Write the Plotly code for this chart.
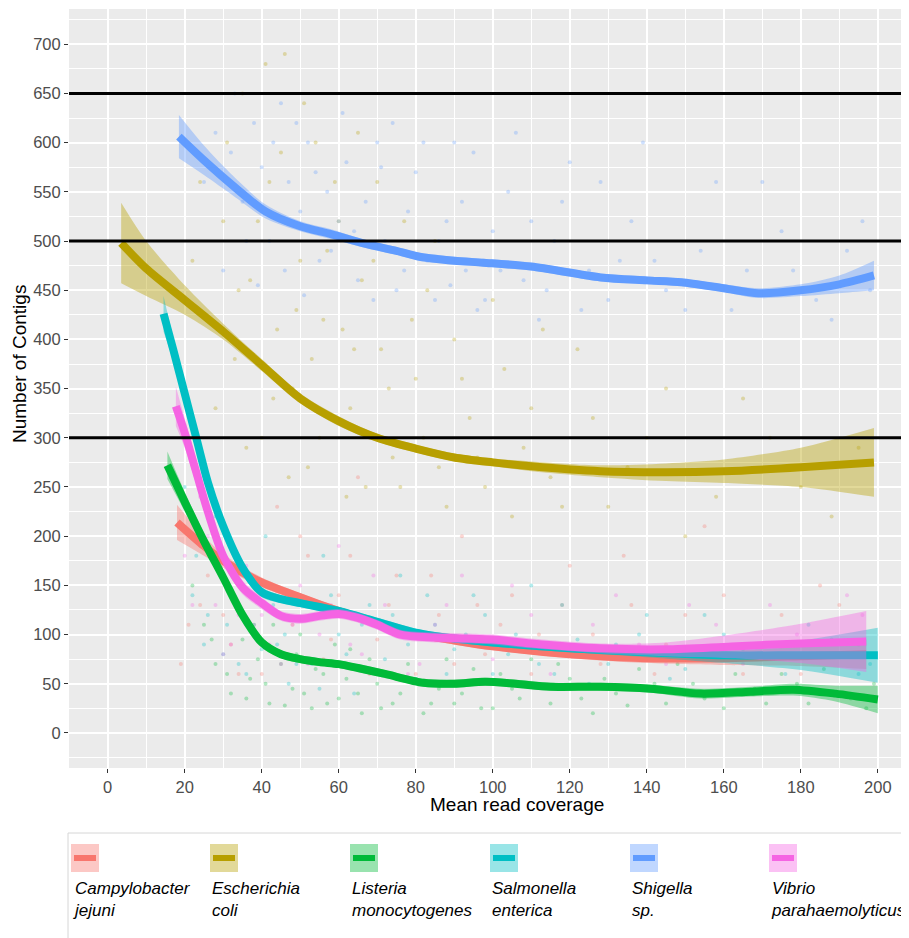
import plotly.graph_objects as go

# ---------------- data ----------------
SPECIES = ["Campylobacter jejuni", "Escherichia coli", "Listeria monocytogenes",
           "Salmonella enterica", "Shigella sp.", "Vibrio parahaemolyticus"]
COLORS = ["#F8766D", "#B79F00", "#00BA38", "#00BFC4", "#619CFF", "#F564E3"]

# smoothed curves (loess) : x, fitted y, half width of confidence band
CJ_X = [18, 25, 30, 40, 50, 60, 70, 80, 90, 100, 120, 140, 160, 180, 197]
CJ_Y = [214, 190, 175, 153, 138, 124, 112, 101, 94, 88, 80, 76, 76, 78, 80]
CJ_SE = [18, 10, 7, 5, 4, 4, 4, 4, 4, 4, 4, 5, 7, 10, 15]

EC_X = [3.5, 10, 20, 30, 40, 50, 60, 70, 80, 90, 100, 110, 128, 145, 160, 180, 199]
EC_Y = [498, 472, 440, 408, 374, 340, 317, 300, 289, 280, 275, 271, 266, 265, 266, 270, 275]
EC_SE = [41, 28, 15, 8, 6, 5, 5, 4, 4, 4, 4, 5, 6, 9, 12, 20, 35]

LM_X = [15.5, 20, 25, 30, 35, 40, 45, 50, 55, 60, 65, 72, 82, 90, 98, 106, 115, 128, 141, 154, 167, 178, 189, 200]
LM_Y = [272, 235, 195, 158, 120, 92, 80, 75, 72, 70, 66, 60, 51, 50, 52, 50, 47, 47, 45, 40, 42, 44, 40, 34]
LM_SE = [14, 10, 8, 6, 5, 5, 4, 4, 4, 4, 4, 4, 4, 4, 4, 4, 4, 4, 4, 5, 5, 6, 8, 14]

SE_X = [14.5, 17, 20, 23, 26, 30, 35, 40, 45, 50, 55, 60, 70, 80, 90, 100, 120, 140, 160, 180, 200]
SE_Y = [426, 390, 345, 300, 255, 210, 168, 143, 136, 132, 128, 124, 113, 102, 96, 92, 86, 82, 79, 79, 79]
SE_SE = [18, 12, 10, 8, 7, 6, 5, 5, 4, 4, 4, 4, 4, 4, 4, 4, 4, 5, 8, 15, 28]

SH_X = [18.5, 25, 32.6, 41, 50, 58, 67, 75, 81, 90, 97.5, 110, 128, 140, 149, 160, 169, 180, 190, 199]
SH_Y = [606, 582, 556, 530, 515, 507, 497, 490, 484, 480, 478, 474, 463, 460, 458, 452, 447, 450, 456, 465]
SH_SE = [22, 15, 10, 7, 5, 5, 4, 4, 4, 4, 4, 4, 4, 4, 4, 4, 5, 6, 9, 15]

VP_X = [17.7, 20, 23, 26, 30, 35, 40, 45, 50, 55, 60, 65, 70, 76, 85, 93, 100, 110, 128, 145, 162, 180, 197]
VP_Y = [332, 305, 265, 225, 180, 148, 132, 119, 116, 119, 121, 117, 110, 100, 97, 96, 95, 91, 86, 85, 88, 91, 93]
VP_SE = [20, 15, 12, 10, 8, 7, 6, 5, 5, 5, 5, 5, 5, 5, 5, 5, 5, 5, 5, 7, 12, 20, 31]

# representative individual assemblies (estimated sample of the point cloud)
CJ_PX = [19, 24, 28, 32, 36, 40, 44, 48, 52, 56, 60, 65, 70, 75, 80, 86, 92, 98, 105, 112, 120, 128, 136, 145, 155, 165, 175, 185, 195,
         21, 26, 30, 34, 38, 42, 46, 50, 54, 58, 63, 68, 73, 78, 84, 90, 96, 102, 110, 118, 126, 134, 142, 150, 160, 170, 180, 190]
CJ_PY = [70, 130, 200, 90, 160, 60, 230, 110, 180, 75, 140, 260, 95, 160, 60, 120, 200, 80, 140, 100, 170, 70, 130, 90, 210, 60, 120, 150, 90,
         110, 160, 120, 60, 110, 150, 80, 200, 120, 95, 180, 60, 130, 100, 160, 70, 130, 110, 60, 130, 100, 180, 60, 120, 140, 90, 60, 130]

EC_PX = [22, 26, 30, 33, 35, 37, 40, 42, 44, 46, 48, 50, 52, 54, 56, 58, 60, 62, 64, 66, 68, 70, 73, 76, 79, 82, 85, 88, 92, 96, 100, 105, 110, 115, 122, 130, 140, 150, 165, 180, 195,
         24, 28, 31, 34, 36, 39, 41, 43, 45, 47, 49, 51, 53, 55, 57, 59, 61, 63, 65, 67, 69, 71, 74, 77, 80, 83, 86, 90, 94, 98, 103, 108, 113, 118, 126, 135, 145, 158, 172, 188]
EC_PY = [480, 420, 520, 380, 650, 460, 300, 560, 410, 690, 350, 480, 270, 600, 420, 320, 520, 240, 390, 460, 300, 560, 350, 250, 420, 300, 500, 230, 360, 280, 440, 220, 330, 260, 390, 230, 300, 200, 340, 250, 290,
         560, 330, 600, 450, 290, 520, 680, 340, 590, 260, 430, 640, 380, 300, 490, 560, 410, 330, 610, 250, 480, 390, 280, 520, 360, 450, 270, 400, 320, 250, 370, 290, 410, 230, 320, 270, 350, 240, 300, 220]

LM_PX = [22, 25, 28, 30, 32, 35, 37, 40, 42, 45, 48, 50, 53, 56, 60, 63, 66, 70, 74, 78, 82, 86, 90, 95, 100, 105, 110, 115, 120, 126, 132, 138, 145, 152, 160, 168, 175, 182, 190, 197,
         27, 31, 34, 36, 39, 41, 43, 46, 49, 51, 54, 57, 59, 62, 65, 68, 71, 73, 76, 80, 84, 88, 92, 97, 102, 107, 112, 117, 123, 129, 135, 142, 148, 155, 163, 171, 179, 186, 193, 199]
LM_PY = [150, 110, 70, 180, 40, 95, 55, 130, 30, 70, 45, 100, 25, 60, 35, 85, 20, 50, 30, 70, 20, 45, 30, 65, 25, 45, 75, 30, 55, 20, 40, 65, 30, 50, 25, 45, 60, 30, 40, 25,
         95, 60, 130, 35, 75, 50, 110, 28, 80, 40, 65, 30, 90, 55, 40, 75, 25, 60, 40, 55, 30, 75, 40, 25, 60, 35, 50, 70, 35, 55, 28, 50, 70, 35, 60, 30, 50, 65, 35, 50]

SE_PX = [20, 23, 26, 28, 30, 33, 36, 38, 41, 44, 47, 50, 53, 56, 60, 64, 68, 72, 76, 80, 85, 90, 95, 100, 106, 112, 118, 125, 132, 140, 150, 160, 170, 182, 195,
         22, 25, 29, 31, 34, 37, 40, 43, 46, 49, 52, 55, 58, 62, 66, 70, 74, 78, 83, 88, 93, 98, 104, 110, 116, 122, 130, 138, 146, 155, 165, 176, 188, 198]
SE_PY = [250, 180, 120, 220, 80, 160, 60, 110, 200, 90, 50, 140, 70, 180, 100, 40, 130, 75, 160, 55, 110, 85, 140, 60, 100, 70, 130, 50, 90, 120, 65, 100, 75, 110, 60,
         140, 90, 170, 110, 70, 140, 85, 130, 100, 70, 115, 45, 140, 80, 110, 60, 120, 90, 140, 60, 100, 120, 80, 150, 60, 95, 70, 100, 55, 120, 85, 60, 95, 70]

SH_PX = [25, 28, 32, 35, 38, 40, 42, 45, 47, 50, 52, 55, 57, 60, 62, 65, 67, 70, 72, 75, 78, 80, 83, 85, 88, 90, 93, 96, 100, 104, 108, 112, 116, 120, 125, 130, 136, 142, 150, 158, 166, 175, 184, 192, 198,
         30, 33, 36, 39, 43, 46, 49, 51, 54, 58, 61, 64, 69, 71, 74, 77, 82, 86, 89, 92, 95, 98, 102, 106, 110, 114, 118, 123, 128, 133, 139, 145, 154, 162, 170, 178, 188, 196]
SH_PY = [560, 610, 590, 540, 620, 575, 500, 640, 560, 530, 600, 480, 550, 520, 580, 460, 540, 600, 500, 450, 530, 570, 480, 440, 520, 600, 470, 430, 510, 550, 460, 420, 500, 580, 470, 440, 520, 480, 430, 560, 470, 510, 440, 490, 450,
         470, 650, 500, 455, 600, 470, 620, 445, 570, 490, 630, 510, 440, 575, 620, 470, 600, 500, 455, 540, 590, 440, 470, 610, 520, 450, 540, 430, 560, 480, 600, 450, 490, 430, 560, 470, 420, 520]

VP_PX = [20, 24, 28, 32, 36, 40, 45, 50, 55, 60, 66, 72, 78, 85, 92, 100, 110, 120, 132, 145, 158, 172, 186, 196,
         22, 26, 30, 34, 38, 42, 48, 52, 58, 63, 69, 75, 81, 88, 96, 105, 115, 126, 138, 151, 165, 179, 192]
VP_PY = [180, 240, 130, 90, 170, 120, 70, 150, 100, 190, 80, 130, 60, 110, 160, 75, 120, 90, 140, 70, 110, 130, 80, 120,
         130, 200, 80, 120, 150, 90, 110, 70, 130, 90, 160, 100, 70, 130, 90, 150, 60, 110, 90, 130, 70, 100, 140]

HLINES = [300, 500, 650]
X_TICKS = list(range(0, 201, 20))
Y_TICKS = list(range(0, 701, 50))
X_TITLE = "Mean read coverage"
Y_TITLE = "Number of Contigs"
LEGEND_LABELS = ["Campylobacter<br>jejuni", "Escherichia<br>coli", "Listeria<br>monocytogenes",
                 "Salmonella<br>enterica", "Shigella<br>sp.", "Vibrio<br>parahaemolyticus"]

CURVES = [(CJ_X, CJ_Y, CJ_SE), (EC_X, EC_Y, EC_SE), (LM_X, LM_Y, LM_SE),
          (SE_X, SE_Y, SE_SE), (SH_X, SH_Y, SH_SE), (VP_X, VP_Y, VP_SE)]
POINTS = [(CJ_PX, CJ_PY), (EC_PX, EC_PY), (LM_PX, LM_PY),
          (SE_PX, SE_PY), (SH_PX, SH_PY), (VP_PX, VP_PY)]

# ---------------- layout geometry ----------------
# page body has an 8px margin, so the figure is 8px smaller and shifted
BODY = 8
W, H = 909 - BODY, 938 - BODY
PANEL_L, PANEL_T, PANEL_B = 69, 9, 768          # screen pixels
ML, MT = PANEL_L - BODY, PANEL_T - BODY
MR = 0
MB = H - (PANEL_B - BODY)
PW = W - ML - MR
PH = H - MT - MB
FONT = "Liberation Sans, Arial, Helvetica, sans-serif"


def rgba(hexc, a):
    hexc = hexc.lstrip("#")
    r, g, b = int(hexc[0:2], 16), int(hexc[2:4], 16), int(hexc[4:6], 16)
    return f"rgba({r},{g},{b},{a})"


def px_x(px):
    return (px - PANEL_L) / PW


def px_y(py):
    return (PANEL_B - py) / PH


fig = go.Figure()

# point layer
for name, col, (px, py) in zip(SPECIES, COLORS, POINTS):
    fig.add_trace(go.Scatter(x=px, y=py, mode="markers", name=name, showlegend=False,
                             marker=dict(size=4, color=rgba(col, 0.3), line=dict(width=0)),
                             hoverinfo="skip"))

# smooth layer: ribbon then line, per group
SPL = dict(shape="spline", smoothing=0.8)
for name, col, (cx, cy, cse) in zip(SPECIES, COLORS, CURVES):
    hi = [y + s for y, s in zip(cy, cse)]
    lo = [y - s for y, s in zip(cy, cse)]
    fig.add_trace(go.Scatter(x=cx, y=lo, mode="lines", line=dict(width=0, **SPL),
                             showlegend=False, hoverinfo="skip"))
    fig.add_trace(go.Scatter(x=cx, y=hi, mode="lines", line=dict(width=0, **SPL),
                             fill="tonexty", fillcolor=rgba(col, 0.4),
                             showlegend=False, hoverinfo="skip"))
    fig.add_trace(go.Scatter(x=cx, y=cy, mode="lines", name=name, showlegend=False,
                             line=dict(color=col, width=8, **SPL)))

shapes = []
for h in HLINES:
    shapes.append(dict(type="line", xref="x domain", x0=0, x1=1, yref="y", y0=h, y1=h,
                       line=dict(color="black", width=3), layer="above"))

# legend (ggplot style: key above italic label)
shapes.append(dict(type="rect", xref="paper", yref="paper",
                   x0=px_x(68), x1=px_x(1000), y0=px_y(833), y1=px_y(1000),
                   line=dict(color="#D6D6D6", width=1), fillcolor="white", layer="below"))
annotations = []
KEY_LEFT = [71, 210, 350, 490, 630, 769]
for left, col, lab in zip(KEY_LEFT, COLORS, LEGEND_LABELS):
    shapes.append(dict(type="rect", xref="paper", yref="paper",
                       x0=px_x(left), x1=px_x(left + 28), y0=px_y(844), y1=px_y(872),
                       line=dict(width=0), fillcolor=rgba(col, 0.4)))
    shapes.append(dict(type="line", xref="paper", yref="paper",
                       x0=px_x(left + 3), x1=px_x(left + 25), y0=px_y(858), y1=px_y(858),
                       line=dict(color=col, width=6)))
    annotations.append(dict(xref="paper", yref="paper", x=px_x(left), y=px_y(899),
                            xanchor="left", yanchor="middle", align="left", showarrow=False,
                            text=f"<i>{lab}</i>", font=dict(family=FONT, size=17, color="black")))

annotations.append(dict(xref="paper", yref="paper", x=px_x(517), y=px_y(804),
                        xanchor="center", yanchor="middle", showarrow=False, text=X_TITLE,
                        font=dict(family=FONT, size=19, color="black")))
annotations.append(dict(xref="paper", yref="paper", x=px_x(19), y=px_y(364),
                        xanchor="center", yanchor="middle", showarrow=False, text=Y_TITLE,
                        textangle=-90, font=dict(family=FONT, size=19, color="black")))

axis_common = dict(showline=False, zeroline=False, showgrid=True, gridcolor="white",
                   gridwidth=1.5, ticks="outside", ticklen=4, tickwidth=1, tickcolor="#333333",
                   tickfont=dict(family=FONT, size=16.5, color="#4D4D4D"))

fig.update_layout(
    width=W, height=H, margin=dict(l=ML, r=MR, t=MT, b=MB, autoexpand=False),
    paper_bgcolor="white", plot_bgcolor="#EBEBEB", showlegend=False,
    shapes=shapes, annotations=annotations,
    xaxis=dict(range=[-10.05, 208.1], tickvals=X_TICKS, **axis_common,
               minor=dict(dtick=10, tick0=0, showgrid=True, gridcolor="white", gridwidth=0.7)),
    yaxis=dict(range=[-35.6, 735.8], tickvals=Y_TICKS, **axis_common,
               minor=dict(dtick=25, tick0=0, showgrid=True, gridcolor="white", gridwidth=0.7)),
)

fig.write_html("out.html")
